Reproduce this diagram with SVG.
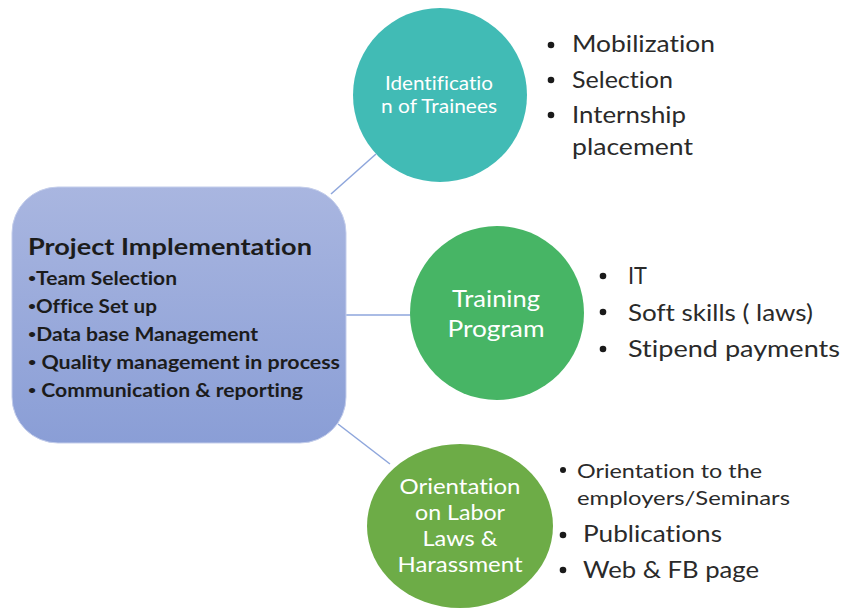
<svg xmlns="http://www.w3.org/2000/svg" width="841" height="611" viewBox="0 0 841 611">
<defs>
<linearGradient id="rg" x1="0" y1="0" x2="0" y2="1">
<stop offset="0" stop-color="#a9b6e0"/>
<stop offset="1" stop-color="#8a9ed6"/>
</linearGradient>
<style>
text{font-variant-ligatures:none}
.conn{stroke:#8ea6dc;stroke-width:1.5;fill:none}
.ct{font-family:Lato,"Open Sans","Liberation Sans",sans-serif;fill:#ffffff;text-anchor:middle}
.rt{font-family:Lato,"Open Sans","Liberation Sans",sans-serif;font-weight:bold;fill:#1c1c1c}
.lt{font-family:Lato,"Open Sans","Liberation Sans",sans-serif;fill:#2a2a2a}
.bul{fill:#1a1a1a}
.sb{font-size:12px;baseline-shift:3px}
</style>
</defs>
<rect width="841" height="611" fill="#ffffff"/>
<g id="connectors">
<line class="conn" x1="331" y1="194" x2="376" y2="154"/>
<line class="conn" x1="346" y1="315" x2="411" y2="315"/>
<line class="conn" x1="338" y1="424" x2="390" y2="464"/>
</g>
<g id="project-implementation">
<rect x="12" y="187" width="334" height="256" rx="46" ry="46" fill="url(#rg)" stroke="#c3cdeb" stroke-width="1"/>
<text class="rt" x="28" y="255" font-size="23" textLength="284" lengthAdjust="spacingAndGlyphs">Project Implementation</text>
<text class="rt" x="28" y="285" font-size="18" textLength="149" lengthAdjust="spacingAndGlyphs"><tspan class="sb">•</tspan>Team Selection</text>
<text class="rt" x="28" y="313" font-size="18" textLength="129" lengthAdjust="spacingAndGlyphs"><tspan class="sb">•</tspan>Office Set up</text>
<text class="rt" x="28" y="341" font-size="18" textLength="230" lengthAdjust="spacingAndGlyphs"><tspan class="sb">•</tspan>Data base Management</text>
<text class="rt" x="28" y="369" font-size="18" textLength="312" lengthAdjust="spacingAndGlyphs"><tspan class="sb">•</tspan> Quality management in process</text>
<text class="rt" x="28" y="397" font-size="18" textLength="275" lengthAdjust="spacingAndGlyphs"><tspan class="sb">•</tspan> Communication  &amp; reporting</text>
</g>
<g id="identification">
<circle cx="440" cy="95" r="87" fill="#41bbb5"/>
<text class="ct" x="439" y="90" font-size="19" textLength="108" lengthAdjust="spacingAndGlyphs">Identificatio</text>
<text class="ct" x="439" y="113" font-size="19" textLength="116" lengthAdjust="spacingAndGlyphs">n of Trainees</text>
</g>
<g id="training">
<circle cx="497" cy="313" r="87" fill="#47b565"/>
<text class="ct" x="496" y="307" font-size="24" textLength="88" lengthAdjust="spacingAndGlyphs">Training</text>
<text class="ct" x="496" y="337" font-size="24" textLength="97" lengthAdjust="spacingAndGlyphs">Program</text>
</g>
<g id="orientation">
<ellipse cx="460" cy="526" rx="93" ry="82" fill="#6dac47"/>
<text class="ct" x="460" y="494" font-size="21" textLength="121" lengthAdjust="spacingAndGlyphs">Orientation</text>
<text class="ct" x="460" y="520" font-size="21" textLength="90" lengthAdjust="spacingAndGlyphs">on Labor</text>
<text class="ct" x="460" y="546" font-size="21" textLength="75" lengthAdjust="spacingAndGlyphs">Laws &amp;</text>
<text class="ct" x="460" y="572" font-size="21" textLength="125" lengthAdjust="spacingAndGlyphs">Harassment</text>
</g>
<g id="list-identification">
<circle class="bul" cx="551" cy="45" r="3.3"/>
<circle class="bul" cx="551" cy="80" r="3.3"/>
<circle class="bul" cx="551" cy="115" r="3.3"/>
<text class="lt" x="572" y="52" font-size="23" textLength="143" lengthAdjust="spacingAndGlyphs">Mobilization</text>
<text class="lt" x="572" y="88" font-size="23" textLength="101" lengthAdjust="spacingAndGlyphs">Selection</text>
<text class="lt" x="572" y="123" font-size="23" textLength="114" lengthAdjust="spacingAndGlyphs">Internship</text>
<text class="lt" x="572" y="155" font-size="23" textLength="121" lengthAdjust="spacingAndGlyphs">placement</text>
</g>
<g id="list-training">
<circle class="bul" cx="603" cy="276" r="3.3"/>
<circle class="bul" cx="603" cy="312" r="3.3"/>
<circle class="bul" cx="603" cy="349" r="3.3"/>
<text class="lt" x="628" y="284" font-size="23" textLength="19" lengthAdjust="spacingAndGlyphs">IT</text>
<text class="lt" x="628" y="321" font-size="23" textLength="185" lengthAdjust="spacingAndGlyphs">Soft skills ( laws)</text>
<text class="lt" x="628" y="357" font-size="23" textLength="212" lengthAdjust="spacingAndGlyphs">Stipend payments</text>
</g>
<g id="list-orientation">
<circle class="bul" cx="563" cy="470" r="3"/>
<circle class="bul" cx="563" cy="535" r="3.3"/>
<circle class="bul" cx="563" cy="570" r="3.3"/>
<text class="lt" x="577" y="478" font-size="20" textLength="185" lengthAdjust="spacingAndGlyphs">Orientation to the</text>
<text class="lt" x="577" y="505" font-size="20" textLength="213" lengthAdjust="spacingAndGlyphs">employers/Seminars</text>
<text class="lt" x="583" y="542" font-size="23" textLength="139" lengthAdjust="spacingAndGlyphs">Publications</text>
<text class="lt" x="583" y="578" font-size="23" textLength="176" lengthAdjust="spacingAndGlyphs">Web &amp; FB page</text>
</g>
</svg>
